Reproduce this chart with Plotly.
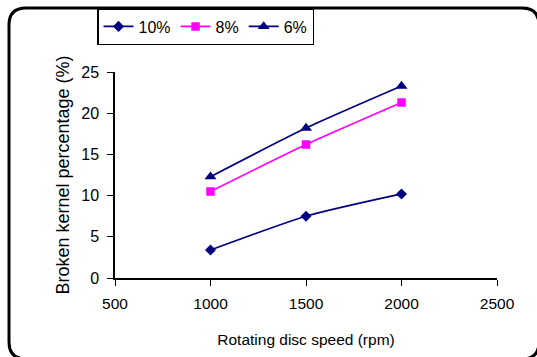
import plotly.graph_objects as go

speeds = [1000, 1500, 2000]
s10 = [3.4, 7.5, 10.2]
s8 = [10.5, 16.2, 21.3]
s6 = [12.3, 18.2, 23.3]
x_ticks = [500, 1000, 1500, 2000, 2500]
y_ticks = [0, 5, 10, 15, 20, 25]

W, H = 537, 357
FONT = "Liberation Sans, Arial, sans-serif"

def px(x):
    return x / W

def py(y):
    return (H - y) / H

fig = go.Figure()
fig.add_trace(go.Scatter(x=speeds, y=s10, name="10%", mode="lines+markers",
                         line=dict(color="#000080", width=1.7, shape="spline", smoothing=0.6),
                         marker=dict(symbol="diamond", size=8.5, color="#000080")))
fig.add_trace(go.Scatter(x=speeds, y=s8, name="8%", mode="lines+markers",
                         line=dict(color="#FF00FF", width=1.7, shape="spline", smoothing=0.6),
                         marker=dict(symbol="square", size=8.5, color="#FF00FF")))
fig.add_trace(go.Scatter(x=speeds, y=s6, name="6%", mode="lines+markers",
                         line=dict(color="#000080", width=1.7, shape="spline", smoothing=0.6),
                         marker=dict(symbol="triangle-up", size=10.5, color="#000080")))

# rounded frame
x0, x1, y0, y1, r = 9, 539, 8, 359, 17
path = (f"M {px(x0+r)},{py(y0)} L {px(x1-r)},{py(y0)} "
        f"Q {px(x1)},{py(y0)} {px(x1)},{py(y0+r)} "
        f"L {px(x1)},{py(y1-r)} Q {px(x1)},{py(y1)} {px(x1-r)},{py(y1)} "
        f"L {px(x0+r)},{py(y1)} Q {px(x0)},{py(y1)} {px(x0)},{py(y1-r)} "
        f"L {px(x0)},{py(y0+r)} Q {px(x0)},{py(y0)} {px(x0+r)},{py(y0)} Z")

fig.update_layout(
    width=W, height=H,
    margin=dict(l=0, r=0, t=0, b=0, autoexpand=False),
    paper_bgcolor="white", plot_bgcolor="white",
    font=dict(family=FONT, size=15, color="black"),
    showlegend=True,
    legend=dict(orientation="h", x=px(97), y=py(8), xanchor="left", yanchor="top",
                bordercolor="black", borderwidth=1.5, bgcolor="white",
                font=dict(size=16, family=FONT), itemwidth=30,
                tracegroupgap=0),
    xaxis=dict(domain=[px(115), px(497)], range=[500, 2500], tickvals=x_ticks,
               automargin=False,
               showgrid=False, zeroline=False, showline=True, linecolor="black",
               linewidth=1.5, ticks="outside", ticklen=6, tickcolor="black",
               tickfont=dict(size=15.5), ticklabelstandoff=5,
               title=dict(text="Rotating disc speed (rpm)", font=dict(size=15.5), standoff=23)),
    yaxis=dict(domain=[py(278), py(72)], range=[0, 25], tickvals=y_ticks,
               automargin=False,
               showgrid=False, zeroline=False, showline=True, linecolor="black",
               linewidth=1.5, ticks="outside", ticklen=6, tickcolor="black",
               tickfont=dict(size=16), ticklabelstandoff=5,
               title=dict(text="Broken kernel percentage (%)", font=dict(size=18), standoff=7)),
    shapes=[dict(type="path", xref="paper", yref="paper", path=path,
                 line=dict(color="black", width=3), layer="above")],
)

fig.write_html("out.html")
